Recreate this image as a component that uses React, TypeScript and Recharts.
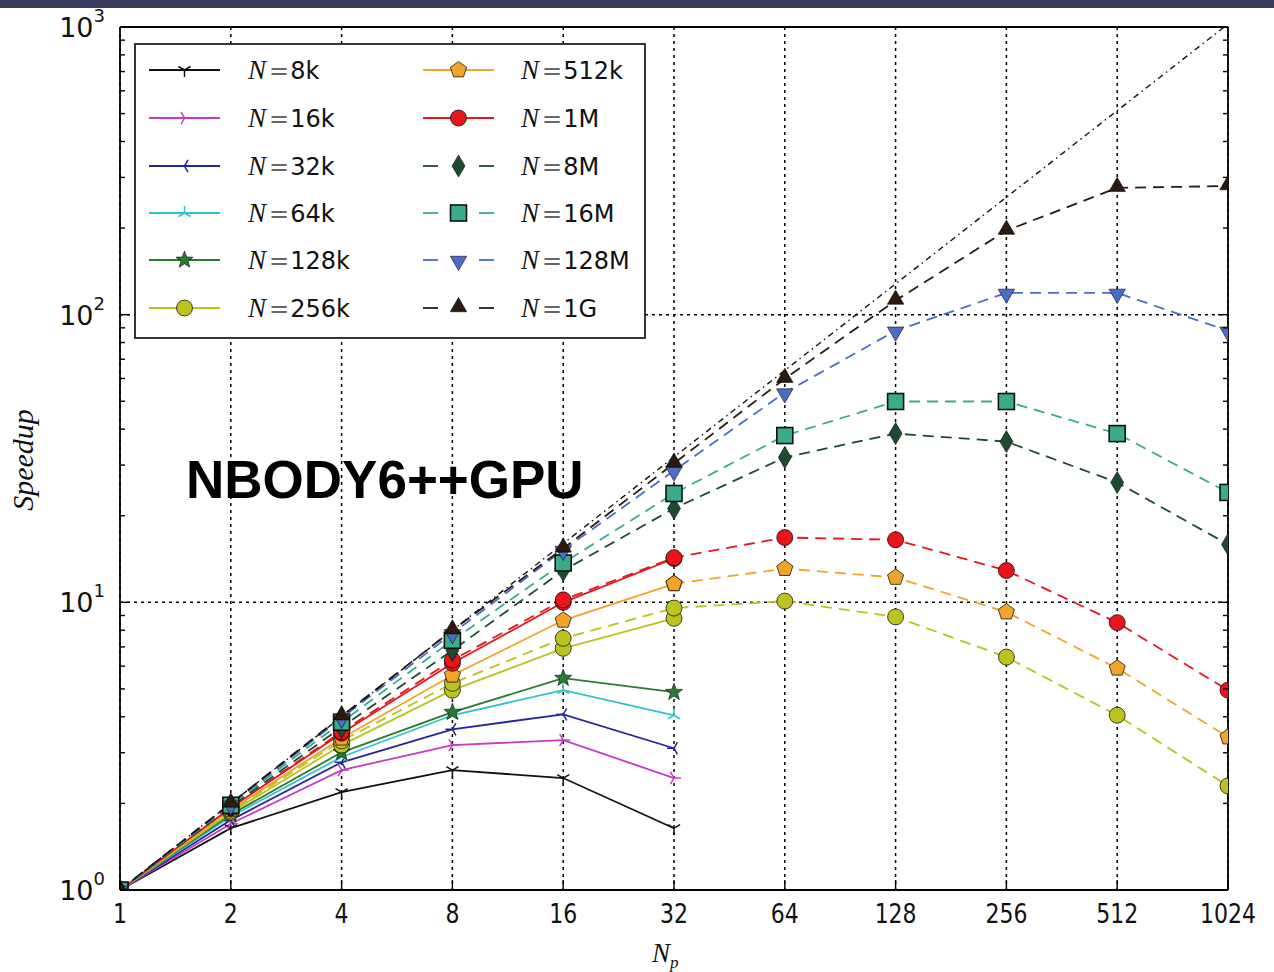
import React from "react";
import { LineChart, Line, XAxis, YAxis, CartesianGrid } from "recharts";

// number of processes on the x axis (log2)
const NP = [1, 2, 4, 8, 16, 32, 64, 128, 256, 512, 1024];
const Y_MAJOR = [1, 10, 100, 1000];
const Y_MINOR = [2, 3, 4, 5, 6, 7, 8, 9, 20, 30, 40, 50, 60, 70, 80, 90, 200, 300, 400, 500, 600, 700, 800, 900];
const Y_ALL = [...Y_MAJOR, ...Y_MINOR].sort((a, b) => a - b);

const n8k = [1, 1.64, 2.19, 2.61, 2.45, 1.64];
const n16k = [1, 1.7, 2.61, 3.19, 3.32, 2.45];
const n32k = [1, 1.75, 2.78, 3.62, 4.08, 3.11];
const n64k = [1, 1.8, 2.9, 4.05, 4.95, 4.05];
const n128k = [1, 1.83, 3.01, 4.15, 5.45, 4.87];
const n256k = [1, 1.86, 3.19, 4.95, 6.92, 8.8];
const n256kRun = [1, 1.88, 3.3, 5.23, 7.5, 9.55, 10.1, 8.9, 6.45, 4.05, 2.3];
const n512k = [1, 1.9, 3.37, 5.58, 8.66, 11.6];
const n512kRun = [null, null, null, null, null, 11.6, 13.1, 12.2, 9.25, 5.9, 3.4];
const n1M = [1, 1.93, 3.51, 6.14, 10.0, 14.2];
const n1MRun = [1, 1.94, 3.55, 6.3, 10.2, 14.3, 16.8, 16.5, 12.9, 8.5, 4.95];
const n8M = [1, 1.95, 3.68, 6.81, 12.9, 21.2, 31.9, 38.6, 36.2, 26.1, 15.9];
const n16M = [1, 1.97, 3.83, 7.38, 13.7, 23.9, 38.0, 49.9, 49.9, 38.6, 24.1];
const n128M = [1, 1.98, 3.96, 7.8, 15.2, 28.7, 53.6, 87.9, 119, 119, 87.9];
const n1G = [1, 2.0, 4.02, 8.0, 15.4, 30.4, 59.9, 112, 196, 276, 280];
const ideal = [1, 2, 4, 8, 16, 32, 64, 128, 256, 512, 1024];

type MarkerKind =
  | "tri_down" | "tri_up" | "tri_left" | "tri_right"
  | "star" | "circle" | "pentagon" | "thin_diamond"
  | "square" | "triangle_down" | "triangle_up" | "none";

type SeriesDef = {
  key: string;
  label?: string;
  values: (number | null)[];
  color: string;
  marker: MarkerKind;
  dashed?: boolean;
};

const SERIES: SeriesDef[] = [
  { key: "n8k", label: "8k", values: n8k, color: "#111111", marker: "tri_down" },
  { key: "n16k", label: "16k", values: n16k, color: "#c43cc4", marker: "tri_right" },
  { key: "n32k", label: "32k", values: n32k, color: "#2424a0", marker: "tri_left" },
  { key: "n64k", label: "64k", values: n64k, color: "#30c4c8", marker: "tri_up" },
  { key: "n128k", label: "128k", values: n128k, color: "#2a7a32", marker: "star" },
  { key: "n256k", label: "256k", values: n256k, color: "#bcc21e", marker: "circle" },
  { key: "n256kRun", values: n256kRun, color: "#bcc21e", marker: "circle", dashed: true },
  { key: "n512k", label: "512k", values: n512k, color: "#f0a42a", marker: "pentagon" },
  { key: "n512kRun", values: n512kRun, color: "#f0a42a", marker: "pentagon", dashed: true },
  { key: "n1M", label: "1M", values: n1M, color: "#e8161c", marker: "circle" },
  { key: "n1MRun", values: n1MRun, color: "#e8161c", marker: "circle", dashed: true },
  { key: "n8M", label: "8M", values: n8M, color: "#1e4a32", marker: "thin_diamond", dashed: true },
  { key: "n16M", label: "16M", values: n16M, color: "#3aac8c", marker: "square", dashed: true },
  { key: "n128M", label: "128M", values: n128M, color: "#4a6ec8", marker: "triangle_down", dashed: true },
  { key: "n1G", label: "1G", values: n1G, color: "#2a1a10", marker: "triangle_up", dashed: true },
];

const rows = NP.map((np, i) => {
  const row: Record<string, number> = { np, ideal: ideal[i] };
  SERIES.forEach((s) => {
    const v = s.values[i];
    if (v != null) row[s.key] = v;
  });
  return row;
});

const DASH = "11 7";
const EDGE = "rgba(0,0,0,0.7)";
const LW = 1.8;

function poly(cx: number, cy: number, n: number, r: number, rot: number) {
  const pts: string[] = [];
  for (let k = 0; k < n; k++) {
    const a = ((rot + (360 / n) * k) * Math.PI) / 180;
    pts.push(`${cx + r * Math.cos(a)},${cy + r * Math.sin(a)}`);
  }
  return pts.join(" ");
}

function starPts(cx: number, cy: number, ro: number, ri: number) {
  const pts: string[] = [];
  for (let k = 0; k < 10; k++) {
    const r = k % 2 === 0 ? ro : ri;
    const a = ((-90 + 36 * k) * Math.PI) / 180;
    pts.push(`${cx + r * Math.cos(a)},${cy + r * Math.sin(a)}`);
  }
  return pts.join(" ");
}

function tri(cx: number, cy: number, color: string, angles: number[]) {
  const r = 7;
  return (
    <g>
      {angles.map((deg) => {
        const a = (deg * Math.PI) / 180;
        return (
          <line key={deg} x1={cx} y1={cy} x2={cx + r * Math.cos(a)} y2={cy + r * Math.sin(a)}
            stroke={color} strokeWidth={1.5} />
        );
      })}
    </g>
  );
}

function Marker({ kind, cx, cy, color }: { kind: MarkerKind; cx: number; cy: number; color: string }) {
  switch (kind) {
    case "tri_down": return tri(cx, cy, color, [90, 210, 330]);
    case "tri_up": return tri(cx, cy, color, [270, 30, 150]);
    case "tri_left": return tri(cx, cy, color, [180, 300, 60]);
    case "tri_right": return tri(cx, cy, color, [0, 120, 240]);
    case "star": return <polygon points={starPts(cx, cy, 9, 3.8)} fill={color} stroke={EDGE} strokeWidth={0.8} />;
    case "circle": return <circle cx={cx} cy={cy} r={8} fill={color} stroke={EDGE} strokeWidth={1} />;
    case "pentagon": return <polygon points={poly(cx, cy, 5, 8.5, -90)} fill={color} stroke={EDGE} strokeWidth={1} />;
    case "thin_diamond":
      return <polygon points={`${cx},${cy - 11} ${cx + 6.5},${cy} ${cx},${cy + 11} ${cx - 6.5},${cy}`} fill={color} stroke={EDGE} strokeWidth={0.8} />;
    case "square": return <rect x={cx - 8} y={cy - 8} width={16} height={16} fill={color} stroke="#111" strokeWidth={1.6} />;
    case "triangle_down": return <polygon points={poly(cx, cy + 1, 3, 9.5, 90)} fill={color} stroke={EDGE} strokeWidth={0.8} />;
    case "triangle_up": return <polygon points={poly(cx, cy - 1, 3, 9.5, -90)} fill={color} stroke={EDGE} strokeWidth={0.8} />;
    default: return <g />;
  }
}

const AXIS_LINE = { stroke: "#000", strokeWidth: 1.8 };

function isMajor(v: number) {
  return Y_MAJOR.includes(v);
}

const LeftTick = (props: any) => {
  const { x, y, payload } = props;
  const v = payload.value as number;
  const major = isMajor(v);
  return (
    <g>
      <line x1={x} x2={x + (major ? 10 : 5)} y1={y} y2={y} stroke="#000" strokeWidth={1.4} />
      {major && (
        <text x={x - 15} y={y + 10} textAnchor="end" fontFamily="DejaVu Sans" fontSize={27} fill="#111">
          <tspan>10</tspan>
          <tspan dy={-15} fontSize={18}>{Math.round(Math.log10(v))}</tspan>
        </text>
      )}
    </g>
  );
};

const RightTick = (props: any) => {
  const { x, y, payload } = props;
  const major = isMajor(payload.value);
  return <line x1={x} x2={x - (major ? 10 : 5)} y1={y} y2={y} stroke="#000" strokeWidth={1.4} />;
};

const BottomTick = (props: any) => {
  const { x, y, payload } = props;
  return (
    <g>
      <line x1={x} x2={x} y1={y} y2={y - 10} stroke="#000" strokeWidth={1.4} />
      <text transform={`translate(${x},${y + 33}) scale(1,1.22)`} textAnchor="middle"
        fontFamily="DejaVu Sans" fontSize={22} fill="#111">
        {payload.value}
      </text>
    </g>
  );
};

const TopTick = (props: any) => {
  const { x, y } = props;
  return <line x1={x} x2={x} y1={y} y2={y + 8} stroke="#000" strokeWidth={1.4} />;
};

function LegendOverlay() {
  const entries = SERIES.filter((s) => s.label);
  const rowsY = [70, 118, 166, 213, 260, 308];
  return (
    <g>
      <rect x={135} y={44} width={510} height={294} fill="#fff" stroke="#222" strokeWidth={1.8} />
      {entries.map((s, i) => {
        const col = i < 6 ? 0 : 1;
        const cy = rowsY[i % 6];
        const x0 = col === 0 ? 149 : 423;
        const x1 = x0 + 71;
        const mx = (x0 + x1) / 2;
        const tx = col === 0 ? 248 : 521;
        return (
          <g key={s.key}>
            {s.dashed ? (
              <g>
                <line x1={x0} x2={x0 + 15} y1={cy} y2={cy} stroke={s.color} strokeWidth={LW} />
                <line x1={x1 - 15} x2={x1} y1={cy} y2={cy} stroke={s.color} strokeWidth={LW} />
              </g>
            ) : (
              <line x1={x0} x2={x1} y1={cy} y2={cy} stroke={s.color} strokeWidth={LW} />
            )}
            <Marker kind={s.marker} cx={mx} cy={cy} color={s.color} />
            <text x={tx} y={cy + 9} fontFamily="DejaVu Sans" fontSize={24} fill="#111">
              <tspan fontFamily="Liberation Serif" fontStyle="italic" fontSize={27}>N</tspan>
              <tspan dx={3} fill="#666">=</tspan>
              <tspan dx={1}>{s.label}</tspan>
            </text>
          </g>
        );
      })}
    </g>
  );
}

export default function App() {
  return (
    <div style={{ position: "absolute", left: 0, top: 0, width: 1274, height: 972, background: "#fff" }}>
      <div style={{ position: "absolute", left: 0, top: 0, width: 1274, height: 8, background: "#3b3d60" }} />
      <LineChart width={1274} height={972} data={rows} margin={{ top: 26, right: 45, bottom: 81, left: 119 }}>
        <YAxis yAxisId="grid" hide type="number" scale="log" domain={[1, 1000]} ticks={Y_MAJOR} allowDataOverflow />
        <CartesianGrid yAxisId="grid" stroke="#000" strokeWidth={1.5} strokeDasharray="3 4" />
        <XAxis dataKey="np" type="number" scale="log" domain={[1, 1024]} ticks={NP} interval={0}
          allowDataOverflow height={1} tickSize={0} tickMargin={0} tickLine={false}
          axisLine={AXIS_LINE} tick={BottomTick} />
        <XAxis xAxisId="top" orientation="top" type="number" scale="log" domain={[1, 1024]} ticks={NP}
          interval={0} allowDataOverflow height={1} tickSize={0} tickMargin={0} tickLine={false}
          axisLine={AXIS_LINE} tick={TopTick} />
        <YAxis type="number" scale="log" domain={[1, 1000]} ticks={Y_ALL} interval={0} allowDataOverflow
          width={1} tickSize={0} tickMargin={0} tickLine={false} axisLine={AXIS_LINE} tick={LeftTick} />
        <YAxis yAxisId="right" orientation="right" type="number" scale="log" domain={[1, 1000]} ticks={Y_ALL}
          interval={0} allowDataOverflow width={1} tickSize={0} tickMargin={0} tickLine={false}
          axisLine={AXIS_LINE} tick={RightTick} />
        {SERIES.map((s) => (
          <Line
            key={s.key}
            dataKey={s.key}
            stroke={s.color}
            strokeWidth={LW}
            strokeDasharray={s.dashed ? DASH : undefined}
            connectNulls={false}
            isAnimationActive={false}
            activeDot={false}
            dot={(p: any) =>
              p.cx == null || p.cy == null || p.value == null ? (
                <g key={p.key ?? p.index} />
              ) : (
                <Marker key={p.key ?? p.index} kind={s.marker} cx={p.cx} cy={p.cy} color={s.color} />
              )
            }
          />
        ))}
        <Line dataKey="ideal" stroke="#111" strokeWidth={1.4} strokeDasharray="6 4 1.5 4"
          dot={false} activeDot={false} isAnimationActive={false} />
      </LineChart>
      <svg width={1274} height={972} style={{ position: "absolute", left: 0, top: 0, pointerEvents: "none" }}>
        <LegendOverlay />
        <text x={186} y={498} fontFamily="Liberation Sans, Arial" fontWeight="bold" fontSize={53} fill="#000">
          NBODY6++GPU
        </text>
        <text x={652} y={962} fontFamily="Liberation Serif" fontStyle="italic" fontSize={27} fill="#111">
          N<tspan dy={6} fontSize={17}>p</tspan>
        </text>
        <text transform="translate(33,460) rotate(-90)" textAnchor="middle" fontFamily="Liberation Serif"
          fontStyle="italic" fontSize={30} fill="#111">
          Speedup
        </text>
      </svg>
    </div>
  );
}
